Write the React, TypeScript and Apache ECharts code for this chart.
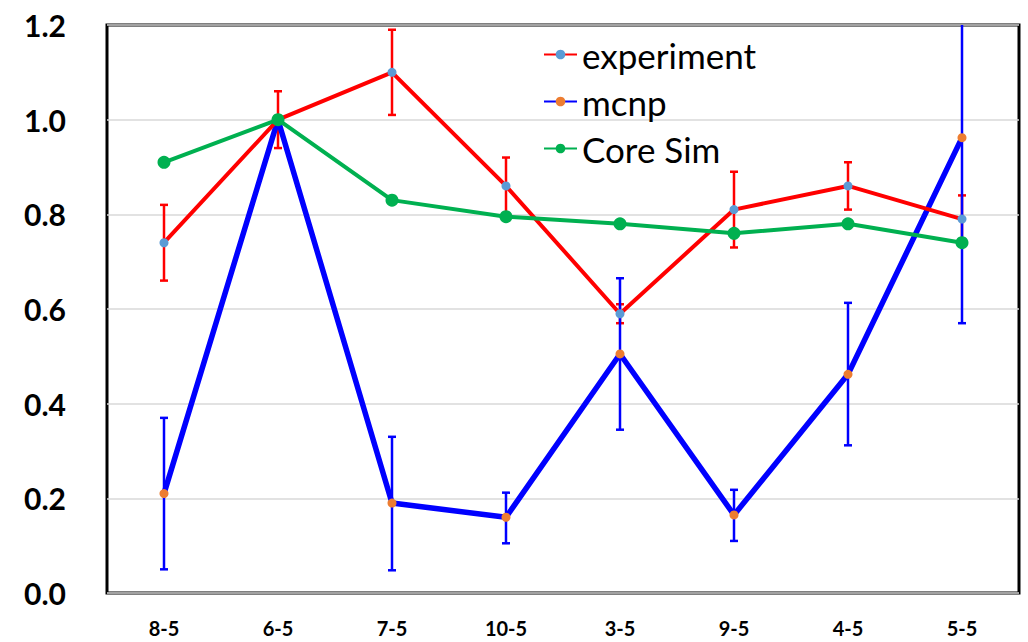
import React, { useEffect, useRef } from "react";
import * as echarts from "echarts";

const categories = ["8-5", "6-5", "7-5", "10-5", "3-5", "9-5", "4-5", "5-5"];
const yTicks = [0, 0.2, 0.4, 0.6, 0.8, 1.0, 1.2];

const experiment = [0.74, 1.0, 1.1, 0.86, 0.59, 0.81, 0.86, 0.79];
const experimentLow = [0.66, 0.94, 1.01, 0.8, 0.57, 0.73, 0.81, 0.74];
const experimentHigh = [0.82, 1.06, 1.19, 0.92, 0.61, 0.89, 0.91, 0.84];

const mcnp = [0.21, 1.0, 0.19, 0.16, 0.505, 0.165, 0.462, 0.962];
const mcnpLow = [0.05, 1.0, 0.048, 0.105, 0.345, 0.11, 0.312, 0.57];
const mcnpHigh = [0.37, 1.0, 0.33, 0.212, 0.665, 0.218, 0.613, 1.35];

const coreSim = [0.91, 1.0, 0.83, 0.795, 0.78, 0.76, 0.78, 0.74];

const FONT = "Lato, 'DejaVu Sans', sans-serif";

function errorSeries(name: string, low: number[], high: number[], color: string) {
  return {
    type: "custom",
    name,
    clip: true,
    z: 1,
    data: low.map((l, i) => [i, l, high[i]]),
    encode: { x: 0, y: [1, 2] },
    renderItem: (params: any, api: any) => {
      const i = api.value(0);
      const lo = api.coord([i, api.value(1)]);
      const hi = api.coord([i, api.value(2)]);
      if (Math.abs(lo[1] - hi[1]) < 0.5) return { type: "group", children: [] };
      const hw = 4;
      const style = { stroke: color, lineWidth: 2.5 };
      return {
        type: "group",
        children: [
          { type: "line", shape: { x1: lo[0], y1: lo[1], x2: hi[0], y2: hi[1] }, style },
          { type: "line", shape: { x1: lo[0] - hw, y1: lo[1], x2: lo[0] + hw, y2: lo[1] }, style },
          { type: "line", shape: { x1: hi[0] - hw, y1: hi[1], x2: hi[0] + hw, y2: hi[1] }, style },
        ],
      };
    },
  };
}

export default function App() {
  const ref = useRef<HTMLDivElement>(null);
  useEffect(() => {
    document.body.style.margin = "0";
    const chart = echarts.init(ref.current!, undefined, { renderer: "svg" });
    chart.setOption({
      animation: false,
      backgroundColor: "#fff",
      grid: {
        left: 107,
        right: 9,
        top: 25,
        bottom: 49,
        show: true,
        borderColor: "#000",
        borderWidth: 3,
      },
      legend: {
        data: ["experiment", "mcnp", "Core Sim"],
        orient: "vertical",
        left: 538,
        top: 31,
        padding: 5,
        itemWidth: 33,
        itemHeight: 12,
        itemGap: 10,
        textStyle: { fontFamily: FONT, fontSize: 35, lineHeight: 37, color: "#000" },
      },
      xAxis: {
        type: "category",
        data: categories,
        axisLine: { show: false },
        axisTick: { show: false },
        axisLabel: {
          margin: 25,
          fontFamily: FONT,
          fontSize: 20,
          lineHeight: 20,
          fontWeight: "bold",
          color: "#000",
        },
      },
      yAxis: {
        type: "value",
        min: yTicks[0],
        max: yTicks[yTicks.length - 1],
        interval: 0.2,
        axisLine: { show: false },
        axisTick: { show: false },
        splitLine: { lineStyle: { color: "#d9d9d9", width: 1.5 } },
        axisLabel: {
          margin: 41,
          fontFamily: FONT,
          fontSize: 30,
          fontWeight: "bold",
          color: "#000",
          formatter: (v: number) => v.toFixed(1),
        },
      },
      series: [
        errorSeries("expErr", experimentLow, experimentHigh, "#ff0000"),
        errorSeries("mcnpErr", mcnpLow, mcnpHigh, "#0000ff"),
        {
          type: "line",
          name: "experiment",
          data: experiment,
          z: 3,
          symbol: "circle",
          symbolSize: 9,
          lineStyle: { color: "#ff0000", width: 4 },
          itemStyle: { color: "#5b9bd5" },
        },
        {
          type: "line",
          name: "mcnp",
          data: mcnp,
          z: 2,
          symbol: "circle",
          symbolSize: 9,
          lineStyle: { color: "#0000ff", width: 5.5 },
          itemStyle: { color: "#ed7d31" },
        },
        {
          type: "line",
          name: "Core Sim",
          data: coreSim,
          z: 4,
          symbol: "circle",
          symbolSize: 13,
          lineStyle: { color: "#00b050", width: 4 },
          itemStyle: { color: "#00b050" },
        },
      ],
    });
    return () => chart.dispose();
  }, []);
  return <div ref={ref} style={{ width: 1028, height: 642 }} />;
}
